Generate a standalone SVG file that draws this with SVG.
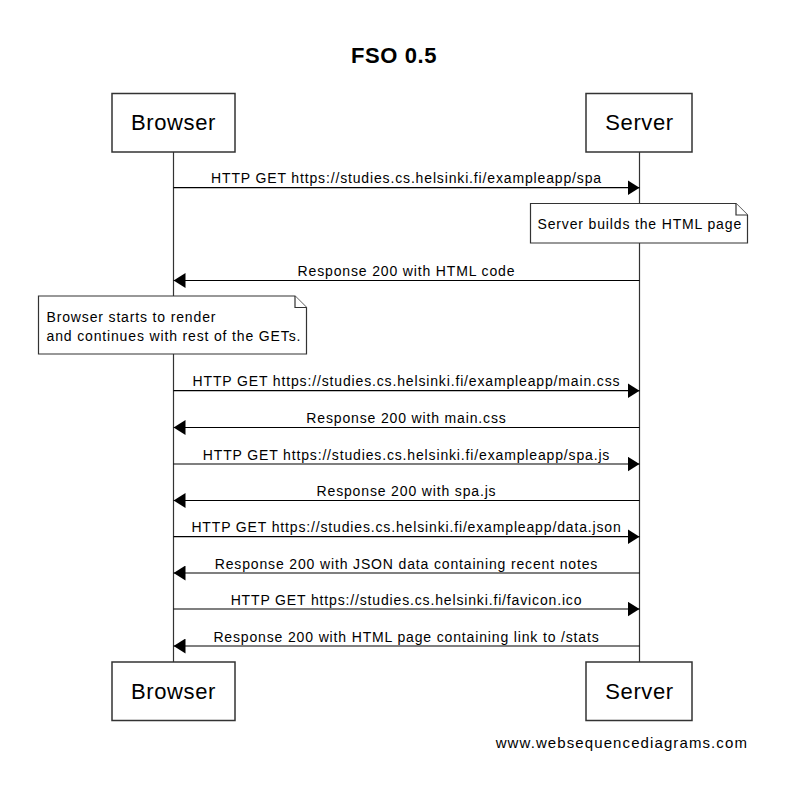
<svg xmlns="http://www.w3.org/2000/svg" width="789" height="798" viewBox="0 0 789 798">
<style>
.bg{fill:#ffffff}
.box{fill:#ffffff;stroke:#333333;stroke-width:1.5}
.life{stroke:#333333;stroke-width:1.2;fill:none}
.msg{stroke:#000000;stroke-width:1.2;fill:none}
.note{fill:#ffffff;stroke:#333333;stroke-width:1.2}
.t{font-family:"Liberation Sans",Arial,sans-serif;fill:#000000}
.title{font-size:22px;font-weight:bold;letter-spacing:0.6px}
.part{font-size:22px;letter-spacing:0.6px}
.lbl{font-size:14px;letter-spacing:0.85px}
.wm{font-size:15px;letter-spacing:1.1px}
</style>
<defs>
<marker id="ah" viewBox="0 0 12 15" refX="12" refY="7.5" markerWidth="12" markerHeight="15" markerUnits="userSpaceOnUse" orient="auto">
<path d="M0,0 L12,7.5 L0,15 Z" fill="#000000"/>
</marker>
</defs>
<rect class="bg" x="0" y="0" width="789" height="798"/>
<text class="t title" x="394" y="63" text-anchor="middle">FSO 0.5</text>

<g id="lifelines">
<line class="life" x1="173.5" y1="152" x2="173.5" y2="662"/>
<line class="life" x1="639.5" y1="152" x2="639.5" y2="662"/>
</g>

<g id="browser-top"><rect class="box" x="112" y="93.5" width="123" height="58.5"/><text class="t part" x="173.5" y="130" text-anchor="middle">Browser</text></g>
<g id="server-top"><rect class="box" x="586" y="93.5" width="106" height="58.5"/><text class="t part" x="639.5" y="130" text-anchor="middle">Server</text></g>
<g id="browser-bottom"><rect class="box" x="112" y="662" width="123" height="58.5"/><text class="t part" x="173.5" y="699" text-anchor="middle">Browser</text></g>
<g id="server-bottom"><rect class="box" x="586" y="662" width="106" height="58.5"/><text class="t part" x="639.5" y="699" text-anchor="middle">Server</text></g>

<g id="note-server">
<path class="note" d="M530.5,203.5 L736,203.5 L747.5,215 L747.5,243 L530.5,243 Z"/>
<path class="note" d="M736,203.5 L736,215 L747.5,215" fill="none"/>
<text class="t lbl" x="537.5" y="229.3">Server builds the HTML page</text>
</g>

<g id="note-browser">
<path class="note" d="M38.5,296 L295,296 L306.5,307.5 L306.5,354 L38.5,354 Z"/>
<path class="note" d="M295,296 L295,307.5 L306.5,307.5" fill="none"/>
<text class="t lbl" x="46.5" y="322">Browser starts to render</text>
<text class="t lbl" x="46.5" y="341">and continues with rest of the GETs.</text>
</g>

<g id="connectors">
<line class="msg" x1="173.5" y1="187.7" x2="639.5" y2="187.7" marker-end="url(#ah)"/>
<line class="msg" x1="639.5" y1="280.5" x2="173.5" y2="280.5" marker-end="url(#ah)"/>
<line class="msg" x1="173.5" y1="390.7" x2="639.5" y2="390.7" marker-end="url(#ah)"/>
<line class="msg" x1="639.5" y1="427.5" x2="173.5" y2="427.5" marker-end="url(#ah)"/>
<line class="msg" x1="173.5" y1="464" x2="639.5" y2="464" marker-end="url(#ah)"/>
<line class="msg" x1="639.5" y1="500.5" x2="173.5" y2="500.5" marker-end="url(#ah)"/>
<line class="msg" x1="173.5" y1="536.7" x2="639.5" y2="536.7" marker-end="url(#ah)"/>
<line class="msg" x1="639.5" y1="573" x2="173.5" y2="573" marker-end="url(#ah)"/>
<line class="msg" x1="173.5" y1="609" x2="639.5" y2="609" marker-end="url(#ah)"/>
<line class="msg" x1="639.5" y1="646" x2="173.5" y2="646" marker-end="url(#ah)"/>
</g>

<g id="connector-labels">
<text class="t lbl" x="406.5" y="183.2" text-anchor="middle">HTTP GET https://studies.cs.helsinki.fi/exampleapp/spa</text>
<text class="t lbl" x="406.5" y="276" text-anchor="middle">Response 200 with HTML code</text>
<text class="t lbl" x="406.5" y="386.2" text-anchor="middle">HTTP GET https://studies.cs.helsinki.fi/exampleapp/main.css</text>
<text class="t lbl" x="406.5" y="423" text-anchor="middle">Response 200 with main.css</text>
<text class="t lbl" x="406.5" y="459.5" text-anchor="middle">HTTP GET https://studies.cs.helsinki.fi/exampleapp/spa.js</text>
<text class="t lbl" x="406.5" y="496" text-anchor="middle">Response 200 with spa.js</text>
<text class="t lbl" x="406.5" y="532.2" text-anchor="middle">HTTP GET https://studies.cs.helsinki.fi/exampleapp/data.json</text>
<text class="t lbl" x="406.5" y="568.5" text-anchor="middle">Response 200 with JSON data containing recent notes</text>
<text class="t lbl" x="406.5" y="604.5" text-anchor="middle">HTTP GET https://studies.cs.helsinki.fi/favicon.ico</text>
<text class="t lbl" x="406.5" y="641.5" text-anchor="middle">Response 200 with HTML page containing link to /stats</text>
</g>

<text class="t wm" x="748" y="748" text-anchor="end">www.websequencediagrams.com</text>
</svg>
